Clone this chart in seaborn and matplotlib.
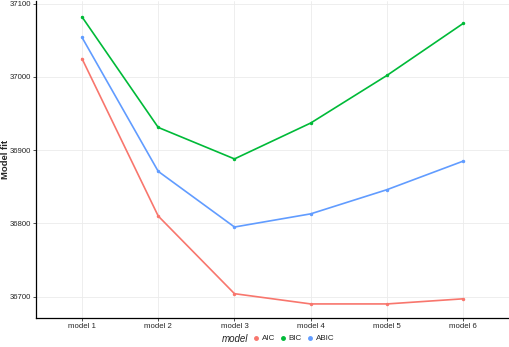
import pandas as pd
import matplotlib.pyplot as plt
import seaborn as sns
from matplotlib.lines import Line2D

models = ['model 1', 'model 2', 'model 3', 'model 4', 'model 5', 'model 6']
aic = [37025, 36810, 36704, 36690, 36690, 36697]
bic = [37082, 36931, 36888, 36937, 37002, 37073]
abic = [37054, 36871, 36795, 36813, 36846, 36885]
criteria = ['AIC', 'BIC', 'ABIC']
colors = ['#F8766D', '#00BA38', '#619CFF']

df = pd.DataFrame({
    'model': models * 3,
    'fit': aic + bic + abic,
    'criterion': ['AIC'] * 6 + ['BIC'] * 6 + ['ABIC'] * 6,
})

sns.set_style('whitegrid')
plt.rcParams['font.family'] = ['Liberation Sans', 'DejaVu Sans']

fig = plt.figure(figsize=(5.1, 3.47), dpi=100)
ax = fig.add_axes([0.071, 0.084, 0.927, 0.914])

sns.lineplot(data=df, x='model', y='fit', hue='criterion', hue_order=criteria,
             palette=colors, marker='o', markersize=2.5, markeredgewidth=0,
             linewidth=1.2, legend=False, ax=ax)

ax.set_xlim(-0.6, 5.6)
ax.set_ylim(36671, 37104)
ax.set_yticks([36700, 36800, 36900, 37000, 37100])
ax.set_xlabel('')
ax.set_ylabel('Model fit', fontsize=6.8, fontweight='bold')
ax.yaxis.set_label_coords(-0.056, 0.5)
ax.tick_params(axis='both', labelsize=5.6, length=2, width=0.6, color='#333333', pad=1.5)
ax.tick_params(axis='both', which='both', left=True, bottom=True)
ax.grid(color='#EBEBEB', linewidth=0.6)
for s in ['top', 'right']:
    ax.spines[s].set_visible(False)
for s in ['left', 'bottom']:
    ax.spines[s].set_color('black')
    ax.spines[s].set_linewidth(0.9)

handles = [Line2D([0], [0], marker='o', color=c, linestyle='', markersize=2.5) for c in colors]
fig.text(0.486, 0.024, 'model', fontsize=7, style='italic', ha='right', va='center')
fig.legend(handles, criteria, loc='center left', bbox_to_anchor=(0.486, 0.024), ncol=3,
           frameon=False, fontsize=5.8, handlelength=0.8, handletextpad=0.3,
           columnspacing=0.6, borderpad=0.1)

plt.savefig('out.png', dpi=100)
